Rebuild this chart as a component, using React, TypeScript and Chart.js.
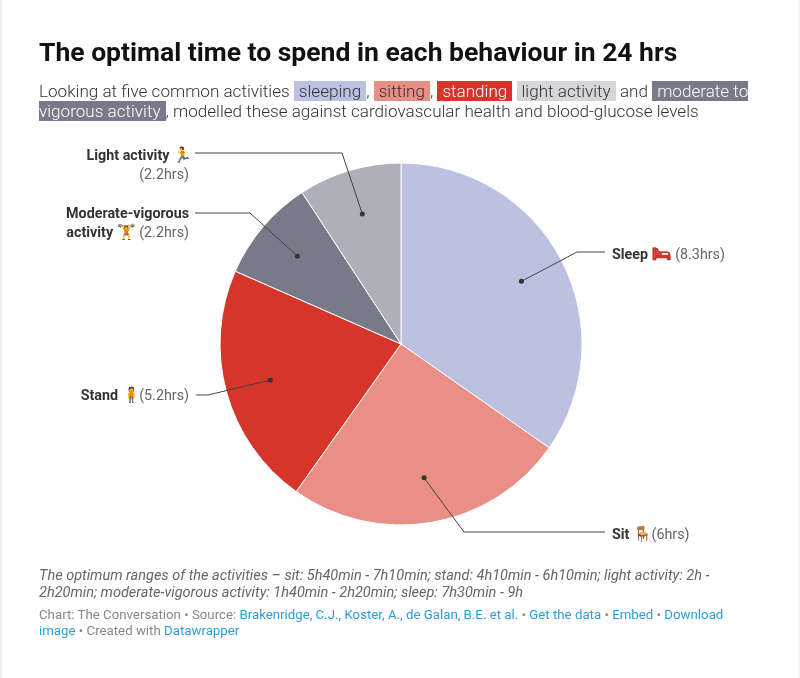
import React, { useEffect, useRef } from "react";
import { Chart, registerables } from "chart.js";

Chart.register(...registerables);

const categories = ["Sleep", "Sit", "Stand", "Moderate-vigorous activity", "Light activity"];
const hours = [8.3, 6, 5.2, 2.2, 2.2];
const colours = ["#bcc1e1", "#ea8f86", "#d8352a", "#797a89", "#aeafb8"];
// Leader routes: start of line next to label, then elbow, in page pixels
const leaderStart: number[][] = [[605, 252], [605, 532], [196, 395], [195, 213], [195, 153]];
const leaderElbow: number[][] = [[577, 252], [464, 532], [208, 395], [250, 213], [342, 153]];

const font = "Roboto, sans-serif";

const leaders = {
  id: "leaders",
  afterDatasetsDraw(chart: any) {
    const ctx = chart.ctx;
    const arcs = chart.getDatasetMeta(0).data;
    arcs.forEach((arc: any, i: number) => {
      const mid = (arc.startAngle + arc.endAngle) / 2;
      const r = arc.outerRadius * 0.75;
      const x = arc.x + Math.cos(mid) * r;
      const y = arc.y + Math.sin(mid) * r;
      ctx.save();
      ctx.strokeStyle = "#444";
      ctx.lineWidth = 1;
      ctx.beginPath();
      ctx.moveTo(leaderStart[i][0], leaderStart[i][1]);
      ctx.lineTo(leaderElbow[i][0], leaderElbow[i][1]);
      ctx.lineTo(x, y);
      ctx.stroke();
      ctx.fillStyle = "#333";
      ctx.beginPath();
      ctx.arc(x, y, 2.5, 0, Math.PI * 2);
      ctx.fill();
      ctx.restore();
    });
  },
};

const hl = (bg: string, fg: string): React.CSSProperties => ({
  background: bg,
  color: fg,
  padding: "0 5px",
});

const labelBase: React.CSSProperties = {
  position: "absolute",
  font: `14.3px/19px ${font}`,
  color: "#666",
  whiteSpace: "nowrap",
};
const B = ({ children }: { children: React.ReactNode }) => (
  <b style={{ color: "#333", fontWeight: 700 }}>{children}</b>
);
const Icon = ({ c, w, children }: { c: string; w: number; children: React.ReactNode }) => (
  <span
    style={{
      display: "inline-block",
      width: w,
      overflow: "visible",
      textAlign: "left",
      color: c,
      fontSize: 15,
      fontWeight: 700,
      WebkitTextStroke: `0.4px ${c}`,
    }}
  >
    {children}
  </span>
);
const link: React.CSSProperties = { color: "#2a9fd8" };

export default function App() {
  const ref = useRef<HTMLCanvasElement>(null);
  useEffect(() => {
    const chart = new Chart(ref.current!, {
      type: "pie",
      data: {
        labels: categories,
        datasets: [
          {
            data: hours,
            backgroundColor: colours,
            borderColor: "#ffffff",
            borderWidth: 1,
          },
        ],
      },
      options: {
        responsive: false,
        animation: false,
        layout: { padding: { left: 219.5, right: 217.5, top: 162.5, bottom: 152.5 } },
        plugins: { legend: { display: false }, tooltip: { enabled: false } },
      },
      plugins: [leaders],
    });
    return () => chart.destroy();
  }, []);

  return (
    <div style={{ position: "absolute", left: 0, top: 0, width: 800, height: 678, background: "#fff", overflow: "hidden" }}>
      <div style={{ position: "absolute", left: 0, top: 0, width: 2, height: 678, background: "#eeeeee" }} />
      <div style={{ position: "absolute", left: 798, top: 0, width: 2, height: 678, background: "#f3f3f3" }} />
      <canvas ref={ref} width={800} height={678} style={{ position: "absolute", left: 0, top: 0 }} />
      <div style={{ position: "absolute", left: 39, top: 37, width: 740, font: `700 26.5px/30px ${font}`, color: "#111", whiteSpace: "nowrap" }}>
        The optimal time to spend in each behaviour in 24 hrs
      </div>
      <div style={{ position: "absolute", left: 39, top: 81, width: 716, font: `300 17.1px/20px ${font}`, color: "#333" }}>
        Looking at five common activities{" "}
        <span style={hl("#bcc1e1", "#333")}>sleeping</span>,{" "}
        <span style={hl("#ea8f86", "#333")}>sitting</span>,{" "}
        <span style={hl("#d8352a", "#fff")}>standing</span>{" "}
        <span style={hl("#d5d5da", "#333")}>light activity</span> and{" "}
        <span style={hl("#797a89", "#fff")}>moderate to vigorous activity</span>, modelled these against cardiovascular health and blood-glucose levels
      </div>

      <div style={{ ...labelBase, right: 611, top: 146, textAlign: "right" }}>
        <B>Light activity <Icon c="#d9622b" w={16}>🏃</Icon></B>
        <br />(2.2hrs)
      </div>
      <div style={{ ...labelBase, right: 611, top: 204, textAlign: "right" }}>
        <B>Moderate-vigorous</B>
        <br />
        <B>activity <Icon c="#2a8fa0" w={19}>🏋</Icon></B> (2.2hrs)
      </div>
      <div style={{ ...labelBase, right: 611, top: 386 }}>
        <B>Stand <Icon c="#7a5ca8" w={14}>🧍</Icon></B> (5.2hrs)
      </div>
      <div style={{ ...labelBase, left: 612, top: 245 }}>
        <B>Sleep <Icon c="#c8352a" w={20}>🛏</Icon></B> (8.3hrs)
      </div>
      <div style={{ ...labelBase, left: 612, top: 525 }}>
        <B>Sit <Icon c="#7a5230" w={15}>🪑</Icon></B> (6hrs)
      </div>

      <div style={{ position: "absolute", left: 39, top: 567, width: 700, font: `italic 14.5px/17px ${font}`, color: "#666" }}>
        The optimum ranges of the activities – sit: 5h40min - 7h10min; stand: 4h10min - 6h10min; light activity: 2h - 2h20min; moderate-vigorous activity: 1h40min - 2h20min; sleep: 7h30min - 9h
      </div>
      <div style={{ position: "absolute", left: 39, top: 607, width: 700, font: `13.25px/16px ${font}`, color: "#888" }}>
        Chart: The Conversation • Source: <span style={link}>Brakenridge, C.J., Koster, A., de Galan, B.E. et al.</span> • <span style={link}>Get the data</span> • <span style={link}>Embed</span> • <span style={link}>Download image</span> • Created with <span style={link}>Datawrapper</span>
      </div>
    </div>
  );
}
